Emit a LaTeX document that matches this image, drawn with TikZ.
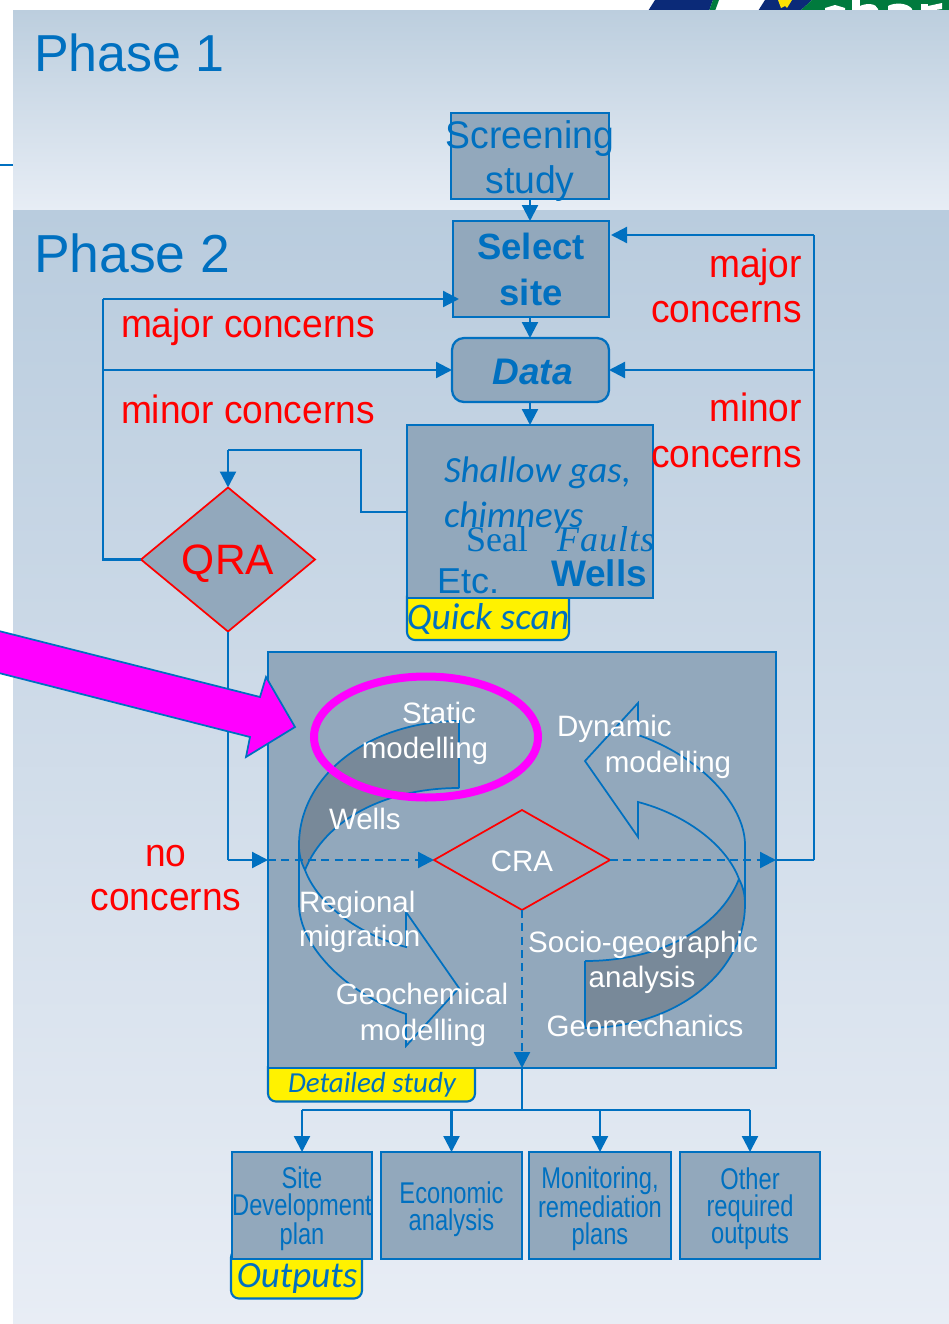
\documentclass[tikz,border=0pt]{standalone}
\usepackage{fontspec}
\setmainfont{Liberation Sans}
\newfontfamily\carl{Carlito}
\newfontfamily\serf{Liberation Serif}
\newfontfamily\nar[FakeStretch=0.79]{Liberation Sans}
\newfontfamily\redf[FakeStretch=0.94]{Liberation Sans}
\newfontfamily\scrf[FakeStretch=0.97]{Liberation Sans}
\usetikzlibrary{arrows.meta,shapes.geometric}
\definecolor{lineblue}{HTML}{0070C0}
\definecolor{boxfill}{HTML}{92A8BC}
\definecolor{ribbon}{HTML}{788999}
\definecolor{navylogo}{HTML}{0B2A78}
\definecolor{greenlogo}{HTML}{007A3D}
\definecolor{magentafill}{HTML}{FF00FF}
\definecolor{bgonetop}{RGB}{188,206,222}
\definecolor{bgonebot}{RGB}{231,237,245}
\definecolor{bgtwotop}{RGB}{185,204,222}
\definecolor{bgtwobot}{RGB}{232,237,245}
\newcommand\fz[2]{\fontsize{\fpeval{#1*0.75}}{\fpeval{#2*0.75}}\selectfont}
\newcommand\ovl[2][2.5pt]{\makebox[0pt]{\raisebox{-#1}[0pt][0pt]{\parbox[c]{300pt}{\centering #2}}}}
\newcommand\ribbonarrow{%
  \fill[ribbon] (459,721) .. controls (370,721) and (299,775) .. (299,845)
     .. controls (299,855) and (301,862) .. (305,870)
     .. controls (325,820) and (385,788) .. (459,788) -- cycle;
  \draw[curvedline] (459,788) -- (459,721) .. controls (370,721) and (299,775) .. (299,845)
     -- (299,904) .. controls (299,945) and (345,993) .. (406,1014)
     -- (406,1046) -- (459,988) -- (406,912) -- (406,947)
     .. controls (360,935) and (318,905) .. (305,870)
     .. controls (325,820) and (385,788) .. (459,788);
  \draw[curvedline] (299,845) .. controls (299,855) and (301,862) .. (305,870);
}
\tikzset{
  x=0.75pt,y=-0.75pt,
  wh/.style 2 args={minimum width=#1*0.75pt,minimum height=#2*0.75pt},
  blockbox/.style={draw=lineblue,fill=boxfill,line width=1.7pt,inner sep=0,outer sep=0,text=lineblue,rectangle},
  roundbox/.style={blockbox,rounded corners=9pt},
  tagbox/.style={draw=lineblue,fill=yellow,line width=1.6pt,inner sep=0,outer sep=0,rounded corners=6pt,rectangle},
  qradiamond/.style={diamond,draw=red,fill=boxfill,line width=1.3pt,inner sep=0,outer sep=0,aspect=1.2},
  link/.style={draw=lineblue,line width=1.7pt},
  arr/.style={link,-{Triangle[length=12pt,width=12pt]}},
  dasharr/.style={arr,dash pattern=on 6pt off 4pt},
  curvedline/.style={draw=lineblue,line width=1.3pt,line join=miter},
  tb/.style={inner sep=0,outer sep=0,anchor=base,text=lineblue},
  tbw/.style={inner sep=0,outer sep=0,anchor=base west,text=lineblue},
  wt/.style={inner sep=0,outer sep=0,anchor=base,text=white,font=\fz{29.5}{30}},
  wtw/.style={inner sep=0,outer sep=0,anchor=base west,text=white,font=\fz{29.5}{30}},
  rd/.style={inner sep=0,outer sep=0,anchor=base,text=red,font=\redf\fz{39.5}{40}},
  rdw/.style={inner sep=0,outer sep=0,anchor=base west,text=red,font=\redf\fz{39.5}{40}},
  rde/.style={inner sep=0,outer sep=0,anchor=base east,text=red,font=\redf\fz{39.5}{40}},
}
\begin{document}
\begin{tikzpicture}
\useasboundingbox (0,0) rectangle (949,1324);
\clip (0,0) rectangle (949,1324);
\fill[white] (0,0) rectangle (949,1324);
% logo remnant
\fill[navylogo] (648,11) -- (655,0) -- (713,0) -- (709,11) -- cycle;
\fill[greenlogo] (709,11) -- (713,0) -- (719,0) -- (715,11) -- cycle;
\fill[navylogo] (758,11) -- (765,0) -- (812,0) -- (800,11) -- cycle;
\fill[yellow!85!orange] (778,0) -- (792,0) -- (787,8) -- (785,6) -- (781,8) -- cycle;
\fill[greenlogo] (800,11) -- (812,0) -- (949,0) -- (949,11) -- cycle;
\fill[white] (825,8) -- (835,5) -- (845,8) -- (845,11) -- (825,11) -- cycle;
\fill[white] (852,0) rectangle (860,11);
\fill[white] (860,6) .. controls (866,3) and (876,3) .. (878,9) -- (878,11) -- (860,11) -- cycle;
\fill[white] (888,6) .. controls (895,2) and (908,3) .. (912,9) -- (912,11) -- (888,11) -- cycle;
\fill[white] (921,4) rectangle (928,11);
\fill[white] (928,6) -- (942,3) -- (942,9) -- (928,11) -- cycle;
% backgrounds
\shade[top color=bgonetop,bottom color=bgonebot] (13,10) rectangle (949,210);
\shade[top color=bgtwotop,bottom color=bgtwobot] (13,210) rectangle (949,1324);
\draw[link] (0,165) -- (13,165);
% tags (drawn first, tucked under their boxes)
\node[tagbox,wh={162}{52}] (tagq) at (488,614) {};
\node[tagbox,wh={207}{43}] (tagd) at (371.5,1080) {};
\node[tagbox,wh={131}{49}] (tago) at (296.5,1274) {};
% boxes
\node[blockbox,wh={158}{86}] (scr) at (530,156) {\scrf\fz{38.5}{45}\ovl[9.65pt]{Screening\\study}};
\node[blockbox,wh={156}{96}] (sel) at (531,269) {\fz{36.5}{46}\bfseries\ovl[6.25pt]{Select\\site}};
\node[roundbox,wh={157}{64}] (dat) at (530.5,370) {\fz{37}{40}\bfseries\itshape\ovl[7.4pt]{\hspace*{3pt}Data}};
\node[blockbox,wh={246}{173}] (qs) at (530,511.5) {};
\node[qradiamond,wh={174}{144}] (qra) at (228,559.5) {\textcolor{red}{\fz{42.5}{45}\raisebox{-11.6pt}[0pt][0pt]{QRA}}};
\node[blockbox,wh={508}{416}] (det) at (522,860) {};
\node[blockbox,wh={140}{107}] (o1) at (302,1205.5) {\nar\fz{30}{27}\ovl[7.75pt]{Site\\Development\\plan}};
\node[blockbox,wh={141}{107}] (o2) at (451.5,1205.5) {\nar\fz{30}{27}\ovl[7.75pt]{Economic\\analysis}};
\node[blockbox,wh={142}{107}] (o3) at (600,1205.5) {\nar\fz{30}{27}\ovl[7.75pt]{Monitoring,\\remediation\\plans}};
\node[blockbox,wh={140}{107}] (o4) at (750,1205.5) {\nar\fz{30}{27}\ovl[7.75pt]{Other\\required\\outputs}};
% connector corners
\coordinate (rb) at (814,860);
\coordinate (rm) at (814,370);
\coordinate (rt) at (814,235);
\coordinate (lb) at (103,559.5);
\coordinate (lm) at (103,370);
\coordinate (lt) at (103,299);
\coordinate (seltip) at (459,299);
\coordinate (seltipr) at (611,235);
\coordinate (qa) at (361,512);
\coordinate (qb) at (361,450);
\coordinate (qc) at (228,450);
\coordinate (nb) at (228,860);
\coordinate (tee) at (522,1110);
\coordinate (oa) at (302,1110);
\coordinate (ob) at (451.5,1110);
\coordinate (oc) at (600,1110);
\coordinate (od) at (750,1110);
% connectors
\draw[arr] (scr.south) -- (scr.south |- sel.north);
\draw[arr] (scr.south |- sel.south) -- (scr.south |- dat.north);
\draw[arr] (scr.south |- dat.south) -- (scr.south |- qs.north);
\draw[link] (rb) -- (rt);
\draw[arr] (rt) -- (seltipr);
\draw[arr] (rm) -- (dat.east |- rm);
\draw[link] (qra.west) -- (lb) -- (lt);
\draw[arr] (lt) -- (seltip);
\draw[arr] (lm) -- (dat.west |- lm);
\draw[link] (qs.west |- qa) -- (qa) -- (qb) -- (qc);
\draw[arr] (qc) -- (qra.north);
\draw[link] (qra.south) -- (nb);
\draw[arr] (nb) -- (det.west |- nb);
% detailed study
\begin{scope}
\ribbonarrow
\end{scope}
\begin{scope}[rotate around={180:(522,874.5)}]
\ribbonarrow
\end{scope}
\node[qradiamond,wh={176}{100}] (cra) at (522,860) {};
\draw[dasharr] (det.west |- nb) -- (cra.west);
\draw[dasharr] (cra.east) -- (det.east |- rb);
\draw[link] (det.east |- rb) -- (rb);
\draw[dasharr] (cra.south) -- (det.south -| cra.south);
\draw[link] (det.south -| cra.south) -- (tee);
\draw[link] (oa) -- (od);
\draw[arr] (oa) -- (o1.north);
\draw[arr] (ob) -- (o2.north);
\draw[arr] (oc) -- (o3.north);
\draw[arr] (od) -- (o4.north);
% magenta arrow and ellipse
\draw[draw=lineblue,fill=magentafill,line width=1.3pt,line join=miter] (-5,630) -- (260,697) -- (266,677) -- (295,727) -- (246,757) -- (250,737) -- (-5,672) -- cycle;
\draw[draw=magentafill,line width=6pt] (426,737) ellipse [x radius=112,y radius=60.5];
% titles
\node[tbw,font=\fz{52}{52}] (p1) at (34,71) {Phase 1};
\node[tbw,font=\fz{53.5}{52}] (p2) at (34,272) {Phase 2};
% red labels
\node[rdw] (l1) at (121,337) {major concerns};
\node[rdw] (l2) at (121,423) {minor concerns};
\node[rde] (r1) at (802,277) {major};
\node[rde] (r2) at (802,322) {concerns};
\node[rde] (r3) at (802,421) {minor};
\node[rde] (r4) at (802,467) {concerns};
\node[rd] (n1) at (166,866) {no};
\node[rd] (n2) at (166,910) {concerns};
% quick scan contents
\node[tbw,font=\carl\itshape\fz{37}{37}] (q1) at (444,482) {Shallow gas,};
\node[tbw,font=\carl\itshape\fz{37}{37}] (q2) at (444,527) {chimneys};
\node[tbw,font=\serf\fz{36}{36}] (q3) at (466,551) {Seal};
\node[tbw,font=\serf\itshape\fz{36}{36}] (q4) at (557,551) {\addfontfeature{LetterSpace=3}Faults};
\node[tbw,font=\fz{36}{36}] (q5) at (437,593) {Etc.};
\node[inner sep=0,outer sep=0,anchor=base east,text=lineblue,font=\bfseries\fz{37}{37}] (q6) at (647,586) {Wells};
% tag texts
\node[tb,font=\carl\itshape\fz{37.5}{36}] (tq) at (488,629) {Quick scan};
\node[tb,font=\carl\itshape\fz{29}{27}] (td) at (372,1092) {Detailed study};
\node[tb,font=\carl\itshape\fz{37}{36}] (to) at (297,1287) {Outputs};
% white labels
\node[wt] (w1) at (439,723) {Static};
\node[wt] (w2) at (425,758) {modelling};
\node[wtw] (w3) at (557,736) {Dynamic};
\node[wt] (w4) at (668,772) {modelling};
\node[wtw] (w5) at (329,829) {Wells};
\node[wt] (w6) at (522,871) {CRA};
\node[wtw] (w7) at (299,912) {Regional};
\node[wtw] (w8) at (299,946) {migration};
\node[wt] (w9) at (422,1004) {Geochemical};
\node[wt] (w10) at (423,1040) {modelling};
\node[wt] (w11) at (643,952) {Socio-geographic};
\node[wt] (w12) at (642,987) {analysis};
\node[wt] (w13) at (645,1036) {Geomechanics};
\end{tikzpicture}
\end{document}
